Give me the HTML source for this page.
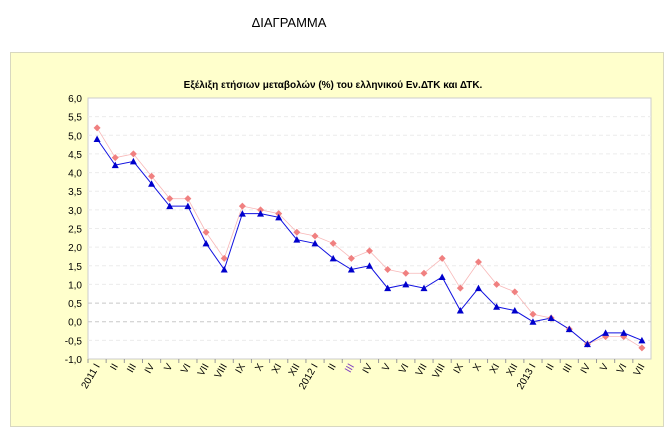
<!DOCTYPE html>
<html><head><meta charset="utf-8"><style>
body{margin:0;background:#fff;width:672px;height:442px;overflow:hidden}
svg{display:block}
text{font-family:"Liberation Sans",sans-serif}
</style></head><body>
<svg width="672" height="442" xmlns="http://www.w3.org/2000/svg">
<text x="289" y="27" font-size="13" text-anchor="middle">ΔΙΑΓΡΑΜΜΑ</text>
<rect x="10.5" y="52.5" width="653" height="374" fill="#ffffcc" stroke="#d8d8c0"/>
<text x="333" y="88" font-size="10" font-weight="bold" text-anchor="middle">Εξέλιξη ετήσιων μεταβολών (%) του ελληνικού Εν.ΔΤΚ και ΔΤΚ.</text>
<rect x="88" y="98" width="563" height="261" fill="#fff" stroke="#ccc"/>
<g id="grid"></g>
<g id="ylab" font-size="10" text-anchor="end"></g>
<g id="xlab" font-size="10"></g>
<polyline id="pl" fill="none" stroke="#f8b8b8" stroke-width="0.8"/>
<polyline id="bl" fill="none" stroke="#1010e0" stroke-width="1"/>
<g id="pm" fill="#f08080"></g>
<g id="bm" fill="#0000cc"></g>
</svg>
<script>
var ns="http://www.w3.org/2000/svg";
function Y(v){return 98+(6-v)*261/7}
function X(i){return 88+563/31*(i+0.5)}
function el(t,a,p,txt){var e=document.createElementNS(ns,t);for(var k in a)e.setAttribute(k,a[k]);if(txt)e.textContent=txt;document.getElementById(p).appendChild(e);return e}
for(var v=-1;v<=6.001;v+=0.5){var y=Y(v);
 if(v>-0.9&&v<5.9){var dark=(Math.abs(v)<0.01||Math.abs(v-0.5)<0.01);
  el("line",{x1:88,x2:651,y1:y,y2:y,stroke:dark?"#c8c8c8":"#ececec","stroke-dasharray":"4,3"},"grid");}
 el("text",{x:82,y:y+4},"ylab",v.toFixed(1).replace(".",",").replace("-0,0","0,0"));}
var labs=[];var r=["I","II","III","IV","V","VI","VII","VIII","IX","X","XI","XII"];
for(var i=0;i<31;i++){var m=r[i%12];if(i==0)m="2011 I";if(i==12)m="2012 I";if(i==24)m="2013 I";labs.push(m)}
for(var i=0;i<31;i++){var x=88+563/31*i;
 el("line",{x1:x,x2:x,y1:359,y2:363,stroke:"#999"},"grid");
 var t=el("text",{x:0,y:0,"text-anchor":"end",transform:"translate("+(X(i)+3)+",366) rotate(-60)",fill:i==14?"#8040c0":"#000"},"xlab",labs[i]);}
var p=[5.2,4.4,4.5,3.9,3.3,3.3,2.4,1.7,3.1,3.0,2.9,2.4,2.3,2.1,1.7,1.9,1.4,1.3,1.3,1.7,0.9,1.6,1.0,0.8,0.2,0.1,-0.2,-0.6,-0.4,-0.4,-0.7];
var b=[4.9,4.2,4.3,3.7,3.1,3.1,2.1,1.4,2.9,2.9,2.8,2.2,2.1,1.7,1.4,1.5,0.9,1.0,0.9,1.2,0.3,0.9,0.4,0.3,0.0,0.1,-0.2,-0.6,-0.3,-0.3,-0.5];
var pp=[],bp=[];
for(var i=0;i<31;i++){var x=X(i),yp=Y(p[i]),yb=Y(b[i]);pp.push(x+","+yp);bp.push(x+","+yb);
 el("polygon",{points:(x)+","+(yp-3.5)+" "+(x+3.5)+","+yp+" "+x+","+(yp+3.5)+" "+(x-3.5)+","+yp},"pm");
 el("polygon",{points:x+","+(yb-3.5)+" "+(x+3.5)+","+(yb+3)+" "+(x-3.5)+","+(yb+3)},"bm");}
document.getElementById("pl").setAttribute("points",pp.join(" "));
document.getElementById("bl").setAttribute("points",bp.join(" "));
</script>
</body></html>
